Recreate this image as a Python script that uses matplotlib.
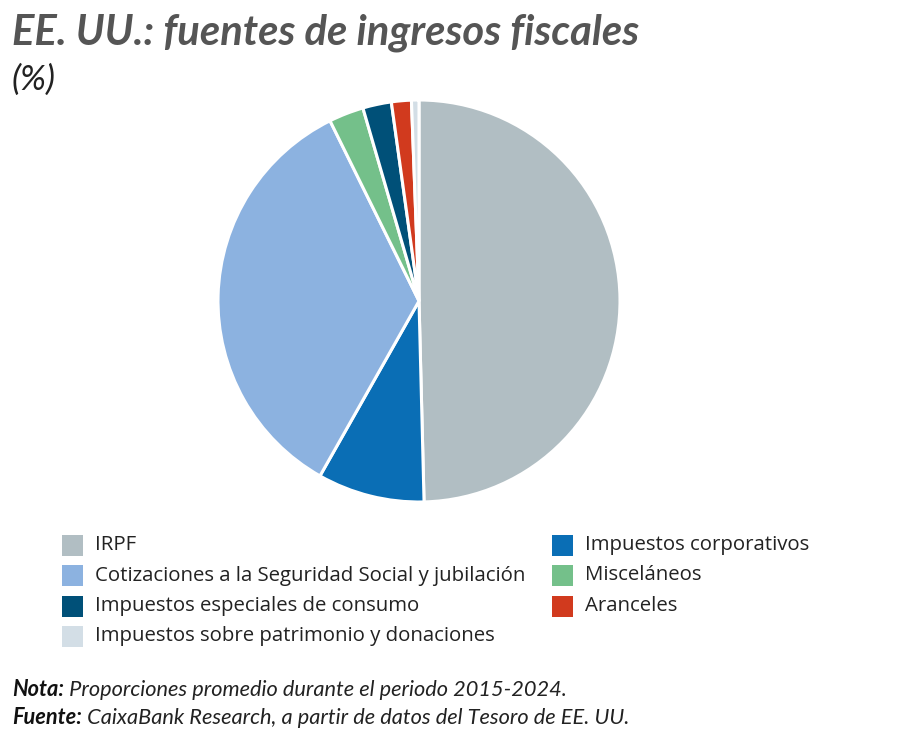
import matplotlib
matplotlib.use("Agg")
import matplotlib.pyplot as plt
from matplotlib.patches import Rectangle

categories = [
    "IRPF",
    "Impuestos corporativos",
    "Cotizaciones a la Seguridad Social y jubilación",
    "Misceláneos",
    "Impuestos especiales de consumo",
    "Aranceles",
    "Impuestos sobre patrimonio y donaciones",
]
values = [49.6, 8.6, 34.5, 2.8, 2.3, 1.6, 0.6]
colors = ["#b1bec3", "#0a6eb5", "#8cb2e0", "#74c08a", "#005078", "#d13a1e", "#d3dee6"]

title = "EE. UU.: fuentes de ingresos fiscales"
subtitle = "(%)"
note_label, note_text = "Nota:", " Proporciones promedio durante el periodo 2015-2024."
src_label, src_text = "Fuente:", " CaixaBank Research, a partir de datos del Tesoro de EE. UU."

W, H = 900, 750
fig = plt.figure(figsize=(9, 7.5), dpi=100)
fig.patch.set_facecolor("white")
renderer = fig.canvas.get_renderer()

narrow = ["Lato", "DejaVu Sans"]
body = ["Open Sans", "DejaVu Sans"]


def fit(t, width_px):
    """scale font size so that text t spans width_px pixels"""
    w = t.get_window_extent(renderer).width
    t.set_fontsize(t.get_fontsize() * width_px / w)
    return t


# pie
cx, cy, r = 419, 301, 201
ax = fig.add_axes([(cx - r) / W, (H - cy - r) / H, 2 * r / W, 2 * r / H])
wedges, _ = ax.pie(values, colors=colors, startangle=90, counterclock=False,
                   wedgeprops=dict(edgecolor="white", linewidth=2.2))
ax.set_xlim(-1.0, 1.0)
ax.set_ylim(-1.0, 1.0)
ax.set_aspect("equal")
ax.axis("off")

# title
t = fig.text(12 / W, 1 - 33 / H, title, fontsize=27, fontweight="bold", fontstyle="italic",
             color="#555555", family=narrow, va="center", ha="left")
fit(t, 627)
t = fig.text(12 / W, 1 - 80 / H, subtitle, fontsize=20, fontstyle="italic",
             color="#222222", family=narrow, va="center", ha="left")
fit(t, 44)

# legend, row-major like the reference
order = [0, 2, 4, 6, 1, 3, 5]
col_x = [62, 552]
row_y = [545, 575.5, 606, 636.5]
sq = 21
legend_size = None
for k, i in enumerate(order):
    col = 0 if k < 4 else 1
    row = k if k < 4 else k - 4
    x, y = col_x[col], row_y[row]
    fig.patches.append(Rectangle(((x) / W, 1 - (y + sq / 2) / H), sq / W, sq / H,
                                 transform=fig.transFigure, facecolor=colors[i],
                                 edgecolor="none"))
    lt = fig.text((x + sq + 12) / W, 1 - y / H, categories[i], fontsize=14,
                  family=body, color="#222222", va="center", ha="left")
    if i == 2:
        fit(lt, 432)
        legend_size = lt.get_fontsize()
for txt in fig.texts:
    if txt.get_text() in categories:
        txt.set_fontsize(legend_size)


# footer
def two_part(y, lab, txt, total_w):
    t1 = fig.text(12 / W, 1 - y / H, lab, fontsize=15, fontweight="bold", fontstyle="italic",
                  family=narrow, color="#111111", va="center", ha="left")
    t2 = fig.text(0, 1 - y / H, txt, fontsize=15, fontstyle="italic",
                  family=narrow, color="#222222", va="center", ha="left")
    w = t1.get_window_extent(renderer).width + t2.get_window_extent(renderer).width
    s = 15 * total_w / w
    t1.set_fontsize(s)
    t2.set_fontsize(s)
    bb = t1.get_window_extent(renderer)
    t2.set_x(bb.x1 / W)


two_part(690, note_label, note_text, 555)
two_part(718, src_label, src_text, 617)

fig.savefig("out.png", dpi=100, facecolor="white")
